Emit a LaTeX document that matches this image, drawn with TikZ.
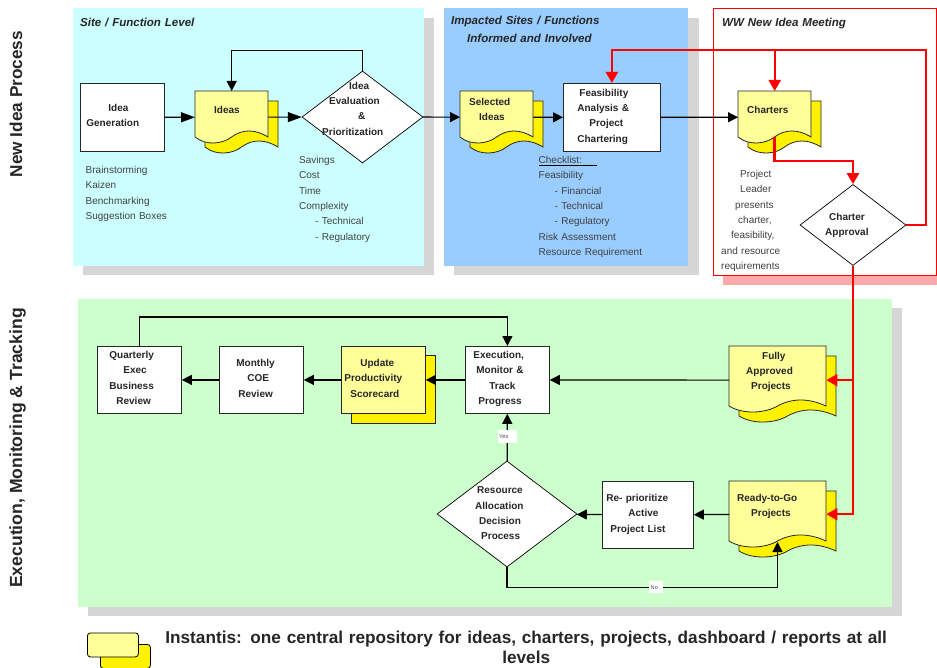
\documentclass[tikz,border=0pt]{standalone}
\usepackage{fontspec}
\setmainfont{Liberation Sans}
\usetikzlibrary{arrows.meta,shapes.geometric}
\definecolor{sheet}{HTML}{FFFF99}
\definecolor{darkline}{HTML}{262626}
\definecolor{sitecol}{HTML}{CCFFFF}
\definecolor{impactcol}{HTML}{99CCFF}
\definecolor{execcol}{HTML}{CCFFCC}
\definecolor{shadowcol}{HTML}{D6D6D6}
\definecolor{pinkcol}{HTML}{FFAAAA}
\tikzset{
  boldtxt/.style={font=\fontsize{10}{15.3}\selectfont\bfseries,text=black!85},
  plaintxt/.style={font=\fontsize{10}{15.3}\selectfont,text=black!75},
  titletxt/.style={font=\fontsize{11.55}{17.5}\selectfont\bfseries\itshape,text=black!85},
  free/.style={inner sep=0pt,anchor=north west,align=left,text width=#1pt,text height=0pt,text depth=0pt},
  cell/.style n args={3}{inner sep=0pt,anchor=north west,align=left,boldtxt,
    text width=#1pt,text height=#3pt,text depth={(#2-#3)*1pt}},
  procbox/.style={draw=darkline,line width=0.8pt,fill=white},
  yellowbox/.style={draw=darkline,line width=0.8pt,fill=sheet},
  decision/.style n args={2}{shape=diamond,draw=black,line width=0.7pt,fill=white,inner sep=0pt,
    minimum width=#1pt,minimum height=#2pt},
  tag/.style n args={2}{cell={#1}{#2}{8},fill=white,font=\fontsize{5.6}{6}\selectfont,text=black!70},
  flow/.style={line width=1.2pt,black,-{Triangle[length=10pt,width=10pt]}},
  flowlong/.style={line width=1.2pt,black,-{Triangle[length=14pt,width=10pt]}},
  redflow/.style={line width=2.2pt,red,-{Triangle[length=11pt,width=12pt]}},
}
\newcommand{\docsheet}[4]{
  \begin{scope}[shift={(#1,#2)}]
    \draw[draw=darkline,line width=0.8pt,fill=yellow] (10,10) -- ({#3+10},10) -- ({#3+10},{#4+10})
      .. controls ({.82*#3+10},{#4+2}) and ({.65*#3+10},{#4+2}) .. ({.5*#3+10},{#4+10})
      .. controls ({.38*#3+10},{#4+17}) and ({.15*#3+10},{#4+19}) .. (10,{#4+10}) -- cycle;
    \draw[draw=darkline,line width=0.8pt,fill=sheet] (0,0) -- (#3,0) -- (#3,#4)
      .. controls ({.82*#3},{#4-8}) and ({.65*#3},{#4-8}) .. ({.5*#3},#4)
      .. controls ({.38*#3},{#4+7}) and ({.15*#3},{#4+9}) .. (0,#4) -- cycle;
  \end{scope}
}
\begin{document}
\begin{tikzpicture}[x=1pt,y=-1pt]
  \useasboundingbox (0,0) rectangle (937,668);
  \fill[shadowcol] (83,18) rectangle (434,275);
  \fill[shadowcol] (454,18) rectangle (699,275);
  \fill[shadowcol] (88,308) rectangle (902,616);
  \fill[pinkcol] (723,18) rectangle (937,285);
  \fill[sitecol] (73,8) rectangle (424,266);
  \fill[impactcol] (444,8) rectangle (688,266);
  \fill[execcol] (78,299) rectangle (892,607);
  \draw[red,line width=0.9pt,fill=white] (713.5,8.5) rectangle (936.5,275);

  \draw (16,104) node[rotate=90,inner sep=0pt,font=\fontsize{17.2}{20}\selectfont\bfseries,text=black!85] (rowa){New Idea Process};
  \draw (17.5,448) node[rotate=90,inner sep=0pt,font=\fontsize{17.6}{20}\selectfont\bfseries,text=black!85] (rowb){Execution, Monitoring \& Tracking};
  \draw (80,26) node[free=200,titletxt] (site){Site / Function Level};
  \draw (451,24) node[free=200,titletxt] (impact){Impacted Sites / Functions\\\hspace*{16pt}Informed and Involved};
  \draw (722,26) node[free=200,titletxt] (meet){WW New Idea Meeting};

  \docsheet{195}{91}{73}{46}
  \docsheet{460}{91}{73}{46}
  \docsheet{738}{91}{73}{46}
  \docsheet{729}{346}{97}{60}
  \docsheet{729}{481}{97}{60}

  \draw
    (80,83) node[cell={84}{68}{28},procbox] (gen){\hspace*{28pt}Idea\\\hspace*{6pt}Generation}
    (195,91) node[cell={73}{52}{22}] (ideas){\hspace*{19pt}Ideas}
    (362.5,117) node[decision={121}{92}] (eval){}
    (460,91) node[cell={73}{52}{14}] (sel){\hspace*{9pt}Selected\\\hspace*{19pt}Ideas}
    (563,83) node[cell={97}{68}{13},procbox] (feas){\hspace*{16pt}Feasibility\\\hspace*{14pt}Analysis \&\\\hspace*{26pt}Project\\\hspace*{14pt}Chartering}
    (738,91) node[cell={73}{52}{22}] (chart){\hspace*{9pt}Charters}
    (853,225) node[decision={106}{81}] (appr){}
    (97,346) node[cell={84}{67}{12},procbox] (quart){\hspace*{12pt}Quarterly\\\hspace*{26pt}Exec\\\hspace*{12pt}Business\\\hspace*{19pt}Review}
    (219,346) node[cell={84}{67}{20},procbox] (month){\hspace*{17pt}Monthly\\\hspace*{28pt}COE\\\hspace*{19pt}Review}
    (351,355) node[cell={84}{68}{0},draw=darkline,line width=0.8pt,fill=yellow] (updback){}
    (341,346) node[cell={84}{67}{20},yellowbox] (upd){\hspace*{19pt}Update\\\hspace*{3pt}Productivity\\\hspace*{9pt}Scorecard}
    (465,346) node[cell={84}{67}{12},procbox] (exec){\hspace*{8pt}Execution,\\\hspace*{11pt}Monitor \&\\\hspace*{24pt}Track\\\hspace*{13pt}Progress}
    (729,346) node[cell={97}{68}{13}] (fully){\hspace*{33pt}Fully\\\hspace*{17pt}Approved\\\hspace*{22pt}Projects}
    (729,481) node[cell={97}{66}{20}] (ready){\hspace*{8pt}Ready-to-Go\\\hspace*{22pt}Projects}
    (602,481) node[cell={91}{67}{20},procbox] (repri){\hspace*{4pt}Re- prioritize\\\hspace*{26pt}Active\\\hspace*{8pt}Project List}
    (507,514) node[decision={140}{106}] (res){};

  \draw
    (322,88.5) node[free=80,boldtxt] (evaltxt){\hspace*{27pt}Idea\\\hspace*{7pt}Evaluation\\\hspace*{36pt}\&\\Prioritization}
    (825,220) node[free=70,boldtxt] (apprtxt){\hspace*{4pt}Charter\\Approval}
    (475,493) node[free=70,boldtxt] (restxt){\hspace*{2pt}Resource\\Allocation\\\hspace*{4pt}Decision\\\hspace*{6pt}Process}
    (85.5,173) node[free=120,plaintxt] (genlist){Brainstorming\\Kaizen\\Benchmarking\\Suggestion Boxes}
    (299,163) node[free=120,plaintxt] (evallist){Savings\\Cost\\Time\\Complexity\\\hspace*{16pt}- Technical\\\hspace*{16pt}- Regulatory}
    (538.5,163) node[free=140,plaintxt] (checklist){Checklist:\\Feasibility\\\hspace*{16pt}- Financial\\\hspace*{16pt}- Technical\\\hspace*{16pt}- Regulatory\\Risk Assessment\\Resource Requirement}
    (721,177) node[free=80,plaintxt] (leader){\hspace*{19pt}Project\\\hspace*{19pt}Leader\\\hspace*{14pt}presents\\\hspace*{17pt}charter,\\\hspace*{10pt}feasibility,\\and resource\\requirements};

  \coordinate (ula) at (538.5,165.5);
  \coordinate (ulb) at (597,165.5);
  \coordinate (redtop) at (926,50);
  \coordinate (redmid) at (853,161);
  \coordinate (chartout) at (774.5,137);
  \coordinate (readyin) at (777.5,542);
  \draw[line width=0.6pt,black] (ula) to (ulb);

  \begin{scope}[flowlong]
    \draw (gen) to (ideas);
    \draw (ideas) to (eval);
  \end{scope}
  \begin{scope}[flow]
    \draw (eval) to (sel);
    \draw (sel) to (feas);
    \draw (feas) to (chart);
    \draw (eval.north) -- ++(0,-20) -| (ideas.north);
    \draw (fully) to (exec);
    \draw (exec) to (upd);
    \draw (upd) to (month);
    \draw (month) to (quart);
    \draw (quart.north) -- ++(0,-29) -| (exec.north);
    \draw (res) to (exec);
    \draw (repri) to (res);
    \draw (ready) to (repri);
    \draw (res.south) -- ++(0,20) -| (readyin);
  \end{scope}
  \begin{scope}[redflow]
    \draw (appr.east) -| (redtop) -| (feas.north);
    \draw (chart.north |- redtop) to (chart.north);
    \draw (chartout) |- (redmid) to (appr.north);
    \draw (appr.south) |- (ready.east);
    \draw (appr.south |- fully.east) to (fully.east);
  \end{scope}

  \draw
    (498,430) node[tag={19}{13}] (yes){\hspace*{1pt}Yes}
    (649,581) node[tag={14}{12}] (no){\hspace*{1.5pt}No};

  \draw (100,644) node[cell={50}{24}{0},draw=black,line width=0.8pt,fill=yellow,rounded corners=3pt] (legback){};
  \draw (87,632.5) node[cell={51}{24}{0},draw=black,line width=0.8pt,fill=sheet,rounded corners=3pt] (legfront){};
  \draw (526,643) node[free=740,align=center,font=\fontsize{17.2}{20}\selectfont\bfseries,text=black!85,xshift=-370pt] (legend){Instantis: one central repository for ideas, charters, projects, dashboard / reports at all\\levels};
\end{tikzpicture}
\end{document}
